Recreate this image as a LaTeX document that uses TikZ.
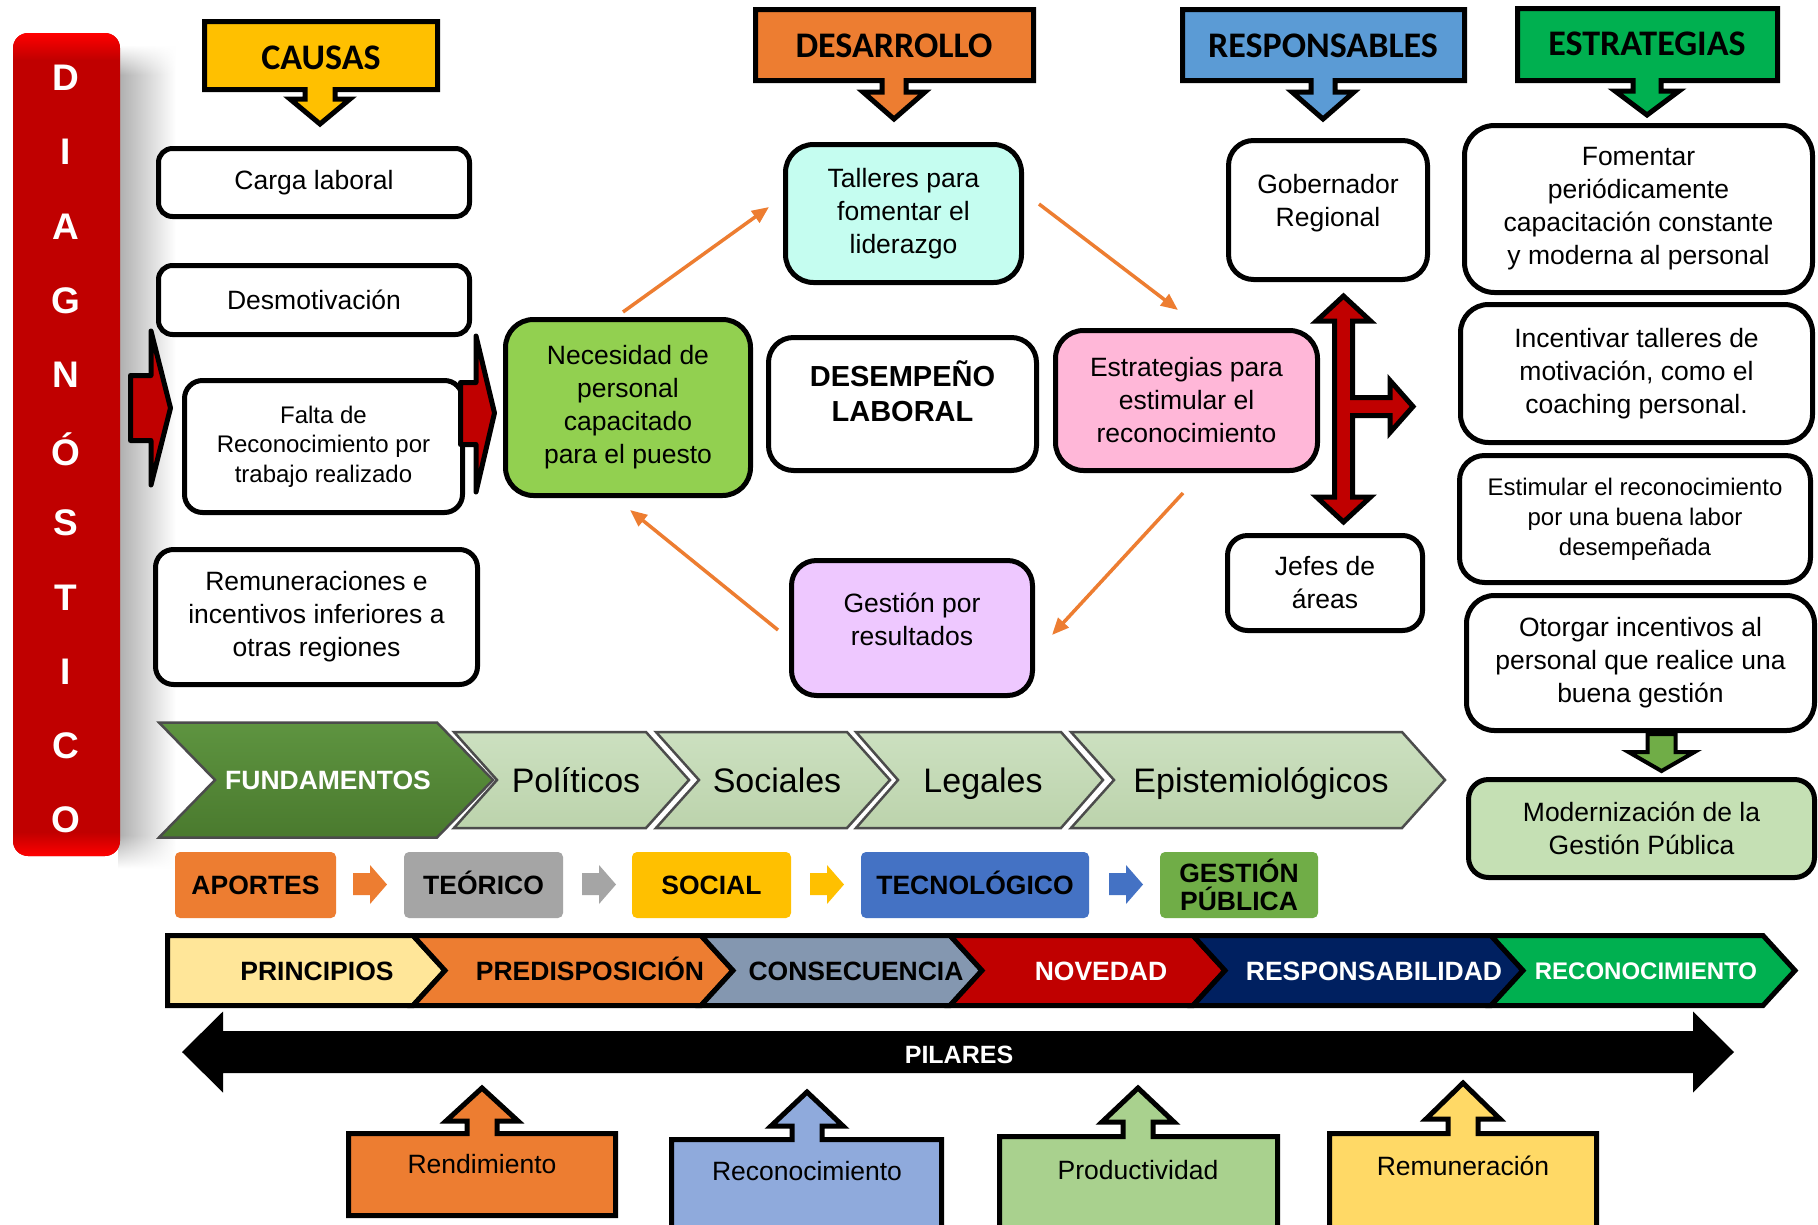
\documentclass[tikz,border=0pt]{standalone}
\usepackage{fontspec}
\setmainfont{Liberation Sans}
\newfontfamily\calfont{Carlito}
\usetikzlibrary{arrows.meta,fadings}
\definecolor{causas}{HTML}{FFC000}
\definecolor{desarr}{HTML}{ED7D31}
\definecolor{respcol}{HTML}{5B9BD5}
\definecolor{estrcol}{HTML}{00B050}
\definecolor{necesc}{HTML}{92D050}
\definecolor{tallerc}{HTML}{C5FDF0}
\definecolor{estratc}{HTML}{FFB7D8}
\definecolor{gestc}{HTML}{EEC8FF}
\definecolor{modernc}{HTML}{C5E0B4}
\definecolor{garrow}{HTML}{70AD47}
\definecolor{diagred}{HTML}{C00000}
\definecolor{orng}{HTML}{ED7D31}
\definecolor{fundtop}{HTML}{5E9440}
\definecolor{fundbot}{HTML}{4A7A2E}
\definecolor{chevtop}{HTML}{CCE0C0}
\definecolor{chevbot}{HTML}{BCD3AC}
\definecolor{aportc}{HTML}{ED7D31}
\definecolor{teorc}{HTML}{A5A5A5}
\definecolor{socic}{HTML}{FFC000}
\definecolor{tecnoc}{HTML}{4472C4}
\definecolor{gestpc}{HTML}{70AD47}
\definecolor{princc}{HTML}{FFE699}
\definecolor{predisc}{HTML}{ED7D31}
\definecolor{consec}{HTML}{8497B0}
\definecolor{novedc}{HTML}{C00000}
\definecolor{responc}{HTML}{002060}
\definecolor{reconc}{HTML}{00B050}
\definecolor{rendc}{HTML}{ED7D31}
\definecolor{reconbc}{HTML}{8FAADC}
\definecolor{prodc}{HTML}{A9D18E}
\definecolor{remunc}{HTML}{FFD966}
\newcommand\bodyfont{\fontsize{26.5}{33}\selectfont}
\newcommand\smbody{\fontsize{24}{29.5}\selectfont}
\newcommand\estfont{\fontsize{24}{30}\selectfont}
\newcommand\desfont{\fontsize{29}{35}\selectfont\bfseries}
\newcommand\hdrfont{\calfont\bfseries\fontsize{36}{40}\selectfont}
\newcommand\chevfont{\fontsize{34}{40}\selectfont}
\newcommand\rowfont{\bfseries\fontsize{26.5}{28}\selectfont}
\newcommand\diagfont{\bfseries\fontsize{37}{40}\selectfont}
\newcommand\chev[6]{\path[#6] (#1,{#4-#5}) -- (#2,{#4-#5}) -- ({#2+#3},#4) -- (#2,{#4+#5}) -- (#1,{#4+#5}) -- ({#1+#3},#4) -- cycle;}
\newcommand\seg[3]{\draw[segst, fill=#3] (#1,935.5) -- (#2,935.5) -- ({#2+32},970.5) -- (#2,1005.5) -- (#1,1005.5) -- ({#1+32},970.5) -- cycle;}
\newcommand\smallarr[2]{\fill[#2] (#1,873) -- ({#1+17},873) -- ({#1+17},865) -- ({#1+34},884.5) -- ({#1+17},904) -- ({#1+17},895) -- (#1,895) -- cycle;}
\begin{document}
\begin{tikzpicture}[x=1pt,y=-1pt,
  box/.style={draw=black, line width=5pt, fill=white, align=center, inner sep=0pt, font=\bodyfont},
  txt/.style={align=center, inner sep=0pt, font=\bodyfont},
  hdr/.style={draw=black, line width=5pt, line join=miter},
  redarr/.style={draw=black, line width=5pt, fill=diagred, line join=round},
  crossarr/.style={draw=black, line width=5pt, fill=diagred, line join=miter},
  orarrow/.style={draw=orng, line width=3.5pt, -{Triangle[length=17pt,width=14pt]}},
  chevst/.style={draw=black!70, line width=2.5pt, line join=miter},
  fundst/.style={chevst, top color=fundtop, bottom color=fundbot},
  lightst/.style={chevst, top color=chevtop, bottom color=chevbot},
  segst/.style={draw=black, line width=5pt, line join=miter},
  abox/.style={rounded corners=5pt, inner sep=0pt, minimum height=66pt, align=center, font=\rowfont},
  capline/.style={inner sep=0pt, text height=19pt, text depth=0pt},
  chevtxt/.style={font=\chevfont, inner sep=0pt, text height=24.3pt, text depth=0pt},
  upbox/.style={draw=black, line width=5pt, line join=miter},
]
\useasboundingbox (0,0) rectangle (1818,1224);
\clip (0,0) rectangle (1818,1224);
\fill[white] (0,0) rectangle (1818,1224);

% shadow and DIAGNOSTICO bar
\shade[left color=black!32, right color=white] (118,75) rectangle (176,835);
\shade[left color=black!32, right color=white, path fading=north] (118,45) rectangle (176,75);
\shade[left color=black!32, right color=white, path fading=south] (118,835) rectangle (176,868);
\fill[diagred, rounded corners=15pt] (13,33) rectangle (120,856);
\begin{scope}
\clip[rounded corners=15pt] (13,33) rectangle (120,856);
\shade[top color=red, bottom color=diagred] (13,33) rectangle (120,60);
\shade[top color=diagred, bottom color=red] (13,832) rectangle (120,856);
\end{scope}
\foreach \lt [count=\i from 0] in {D,I,A,G,N,Ó,S,T,I,C,O}
  \node[font=\diagfont, text=white] (dg\i) at (66,{78+74.2*\i}) {\lt};

% headers
\draw[hdr, fill=causas] (204.5,21.5) -- (437.5,21.5) -- (437.5,89.5) -- (335,89.5) -- (335,99) -- (350,99) -- (320,124) -- (290,99) -- (305,99) -- (305,89.5) -- (204.5,89.5) -- cycle;
\node[font=\hdrfont] (causas) at (321,58) {CAUSAS};
\draw[hdr, fill=desarr] (755.5,9.5) -- (1033.5,9.5) -- (1033.5,80.5) -- (906,80.5) -- (906,92) -- (925,92) -- (894,119) -- (863,92) -- (882,92) -- (882,80.5) -- (755.5,80.5) -- cycle;
\node[font=\hdrfont] (desarrollo) at (894,46) {DESARROLLO};
\draw[hdr, fill=respcol] (1182.5,9.5) -- (1464.5,9.5) -- (1464.5,80.5) -- (1335,80.5) -- (1335,92) -- (1354,92) -- (1323,119) -- (1292,92) -- (1311,92) -- (1311,80.5) -- (1182.5,80.5) -- cycle;
\node[font=\hdrfont] (responsables) at (1323,46) {RESPONSABLES};
\draw[hdr, fill=estrcol] (1517.5,8.5) -- (1777.5,8.5) -- (1777.5,80.5) -- (1661,80.5) -- (1661,91) -- (1679,91) -- (1647,115) -- (1615,91) -- (1633,91) -- (1633,80.5) -- (1517.5,80.5) -- cycle;
\node[font=\hdrfont] (estrategias) at (1647,44) {ESTRATEGIAS};

% causes
\node[box, rounded corners=14pt, minimum width=311pt, minimum height=68pt] (carga) at (314,182.5) {Carga laboral};
\node[box, rounded corners=14pt, minimum width=311pt, minimum height=69pt] (desm) at (314,300) {Desmotivación};
\node[box, rounded corners=18pt, minimum width=278pt, minimum height=132pt, font=\smbody] (falta) at (323.5,446.5) {Falta de\\Reconocimiento por\\trabajo realizado};
\node[box, rounded corners=18pt, minimum width=322pt, minimum height=135pt] (remun) at (316.5,617) {Remuneraciones e\\incentivos inferiores a\\otras regiones};
\draw[redarr] (130.5,375.5) -- (151,375.5) -- (151,331) -- (170.5,408) -- (151,485) -- (151,440.5) -- (130.5,440.5) -- cycle;
\draw[redarr] (460.5,382.5) -- (476,382.5) -- (476,336) -- (494.5,413) -- (476,492) -- (476,444.5) -- (460.5,444.5) -- cycle;

% central
\node[box, rounded corners=28pt, fill=necesc, minimum width=245pt, minimum height=176pt] (neces) at (628,407.5) {Necesidad de\\personal\\capacitado\\para el puesto};
\node[box, rounded corners=25pt, minimum width=268pt, minimum height=133pt] (desemp) at (902.5,404) {};
\node[txt, font=\desfont] (desempt) at (902.5,391) {DESEMPEÑO\\LABORAL};
\node[box, rounded corners=28pt, fill=tallerc, minimum width=236pt, minimum height=138pt] (talleres) at (903.5,213.5) {Talleres para\\fomentar el\\liderazgo};
\node[box, rounded corners=28pt, fill=estratc, minimum width=262pt, minimum height=140pt] (estim) at (1186.5,400.5) {Estrategias para\\estimular el\\reconocimiento};
\node[box, rounded corners=25pt, fill=gestc, minimum width=241pt, minimum height=135pt] (gestion) at (912,628) {};
\node[txt] (gestiont) at (912,619) {Gestión por\\resultados};
\node[box, rounded corners=25pt, minimum width=199pt, minimum height=139pt] (gob) at (1328,210) {};
\node[txt] (gobt) at (1328,203) {Gobernador\\Regional};
\node[box, rounded corners=20pt, minimum width=195pt, minimum height=95pt] (jefes) at (1325,583) {Jefes de\\áreas};

\coordinate (a1s) at (623,312); \coordinate (a1e) at (769,207);
\coordinate (a2s) at (1039,204); \coordinate (a2e) at (1178,310);
\coordinate (a3s) at (1183,493); \coordinate (a3e) at (1052,635);
\coordinate (a4s) at (778,630); \coordinate (a4e) at (630,510);
\draw[orarrow] (a1s) -- (a1e);
\draw[orarrow] (a2s) -- (a2e);
\draw[orarrow] (a3s) -- (a3e);
\draw[orarrow] (a4s) -- (a4e);

\draw[crossarr] (1343.5,296) -- (1370.5,321) -- (1352.5,321) -- (1352.5,397.5) -- (1390,397.5) -- (1390,380.5) -- (1413,406.5) -- (1390,432.5) -- (1390,415.5) -- (1352.5,415.5) -- (1352.5,497) -- (1370.5,497) -- (1343.5,522) -- (1316.5,497) -- (1334.5,497) -- (1334.5,321) -- (1316.5,321) -- cycle;

% strategies
\node[box, rounded corners=30pt, minimum width=348pt, minimum height=167pt] (fom) at (1638.5,209) {Fomentar\\periódicamente\\capacitación constante\\y moderna al personal};
\node[box, rounded corners=28pt, minimum width=352pt, minimum height=138pt] (incent) at (1636.5,373.5) {Incentivar talleres de\\motivación, como el\\coaching personal.};
\node[box, rounded corners=25pt, minimum width=351pt, minimum height=127pt, font=\estfont] (estimul) at (1635,519) {Estimular el reconocimiento\\por una buena labor\\desempeñada};
\node[box, rounded corners=28pt, minimum width=348pt, minimum height=135pt] (otorg) at (1640.5,663) {Otorgar incentivos al\\personal que realice una\\buena gestión};
\node[box, rounded corners=20pt, fill=modernc, minimum width=346pt, minimum height=98pt] (modern) at (1641.5,828.5) {Modernización de la\\Gestión Pública};
\draw[line width=4pt, fill=garrow, line join=miter] (1647.5,734) -- (1675.5,734) -- (1675.5,752) -- (1694.5,752) -- (1661.5,771) -- (1628.5,752) -- (1647.5,752) -- cycle;

% chevrons
\chev{159}{437}{56}{780}{57.5}{fundst}
\chev{454}{646}{43}{780}{48}{lightst}
\chev{656}{847}{43}{780}{48}{lightst}
\chev{856}{1061}{42}{780}{48}{lightst}
\chev{1071}{1402}{43}{780}{48}{lightst}
\node[font=\rowfont, text=white, capline] (fund) at (328,780) {FUNDAMENTOS};
\node[chevtxt] (pol) at (576,780) {Políticos};
\node[chevtxt] (soc) at (777,780) {Sociales};
\node[chevtxt] (leg) at (983,780) {Legales};
\node[chevtxt] (epi) at (1261,780) {Epistemiológicos};

% aportes row
\node[abox, fill=aportc, minimum width=161pt, capline] (aportes) at (255.5,885) {APORTES};
\smallarr{353}{aportc}
\node[abox, fill=teorc, minimum width=159pt, capline] (teorico) at (483.5,885) {TEÓRICO};
\smallarr{582}{teorc}
\node[abox, fill=socic, minimum width=159pt, capline] (social) at (711.5,885) {SOCIAL};
\smallarr{810}{socic}
\node[abox, fill=tecnoc, minimum width=228pt, capline] (tecnologico) at (975,885) {TECNOLÓGICO};
\smallarr{1109}{tecnoc}
\node[abox, fill=gestpc, minimum width=158pt] (gestpub) at (1239,885) {GESTIÓN\\PÚBLICA};

% principios row
\draw[segst, fill=princc] (167.5,935.5) -- (413,935.5) -- (445,970.5) -- (413,1005.5) -- (167.5,1005.5) -- cycle;
\seg{413}{701}{predisc}
\seg{701}{950}{consec}
\seg{950}{1193}{novedc}
\seg{1193}{1491}{responc}
\seg{1491}{1763}{reconc}
\node[font=\rowfont, capline] (princ) at (317,970.5) {PRINCIPIOS};
\node[font=\rowfont, capline] (predis) at (590,970.5) {PREDISPOSICIÓN};
\node[font=\rowfont, capline] (conse) at (856,970.5) {CONSECUENCIA};
\node[font=\rowfont, capline, text=white] (noved) at (1101,970.5) {NOVEDAD};
\node[font=\rowfont, capline, text=white] (respon) at (1374,970.5) {RESPONSABILIDAD};
\node[font=\bfseries\fontsize{24}{28}\selectfont, inner sep=0pt, text height=17.2pt, text depth=0pt, text=white] (recon) at (1646,970.5) {RECONOCIMIENTO};

% pilares
\fill[black] (182,1052) -- (223,1011.5) -- (223,1031) -- (1693,1031) -- (1693,1011.5) -- (1734,1052) -- (1693,1092.5) -- (1693,1073) -- (223,1073) -- (223,1092.5) -- cycle;
\node[font=\bfseries\fontsize{25}{28}\selectfont, inner sep=0pt, text height=18pt, text depth=0pt, text=white] (pilares) at (959,1054) {PILARES};

% bottom callouts
\draw[upbox, fill=rendc] (348.5,1133.5) -- (467,1133.5) -- (467,1121) -- (446,1121) -- (482,1088) -- (518,1121) -- (497,1121) -- (497,1133.5) -- (615.5,1133.5) -- (615.5,1215.5) -- (348.5,1215.5) -- cycle;
\node[font=\bodyfont] (rend) at (482,1164) {Rendimiento};
\draw[upbox, fill=reconbc] (671.5,1139.5) -- (792,1139.5) -- (792,1126) -- (771,1126) -- (807,1092) -- (843,1126) -- (822,1126) -- (822,1139.5) -- (941.5,1139.5) -- (941.5,1240) -- (671.5,1240) -- cycle;
\node[font=\bodyfont] (reconb) at (807,1171) {Reconocimiento};
\draw[upbox, fill=prodc] (999.5,1136.5) -- (1123,1136.5) -- (1123,1122) -- (1102,1122) -- (1138,1088) -- (1174,1122) -- (1153,1122) -- (1153,1136.5) -- (1277.5,1136.5) -- (1277.5,1240) -- (999.5,1240) -- cycle;
\node[font=\bodyfont] (prod) at (1138,1170) {Productividad};
\draw[upbox, fill=remunc] (1329.5,1133.5) -- (1448,1133.5) -- (1448,1119) -- (1426,1119) -- (1463,1083) -- (1500,1119) -- (1478,1119) -- (1478,1133.5) -- (1596.5,1133.5) -- (1596.5,1240) -- (1329.5,1240) -- cycle;
\node[font=\bodyfont] (remunb) at (1463,1166) {Remuneración};
\end{tikzpicture}
\end{document}
